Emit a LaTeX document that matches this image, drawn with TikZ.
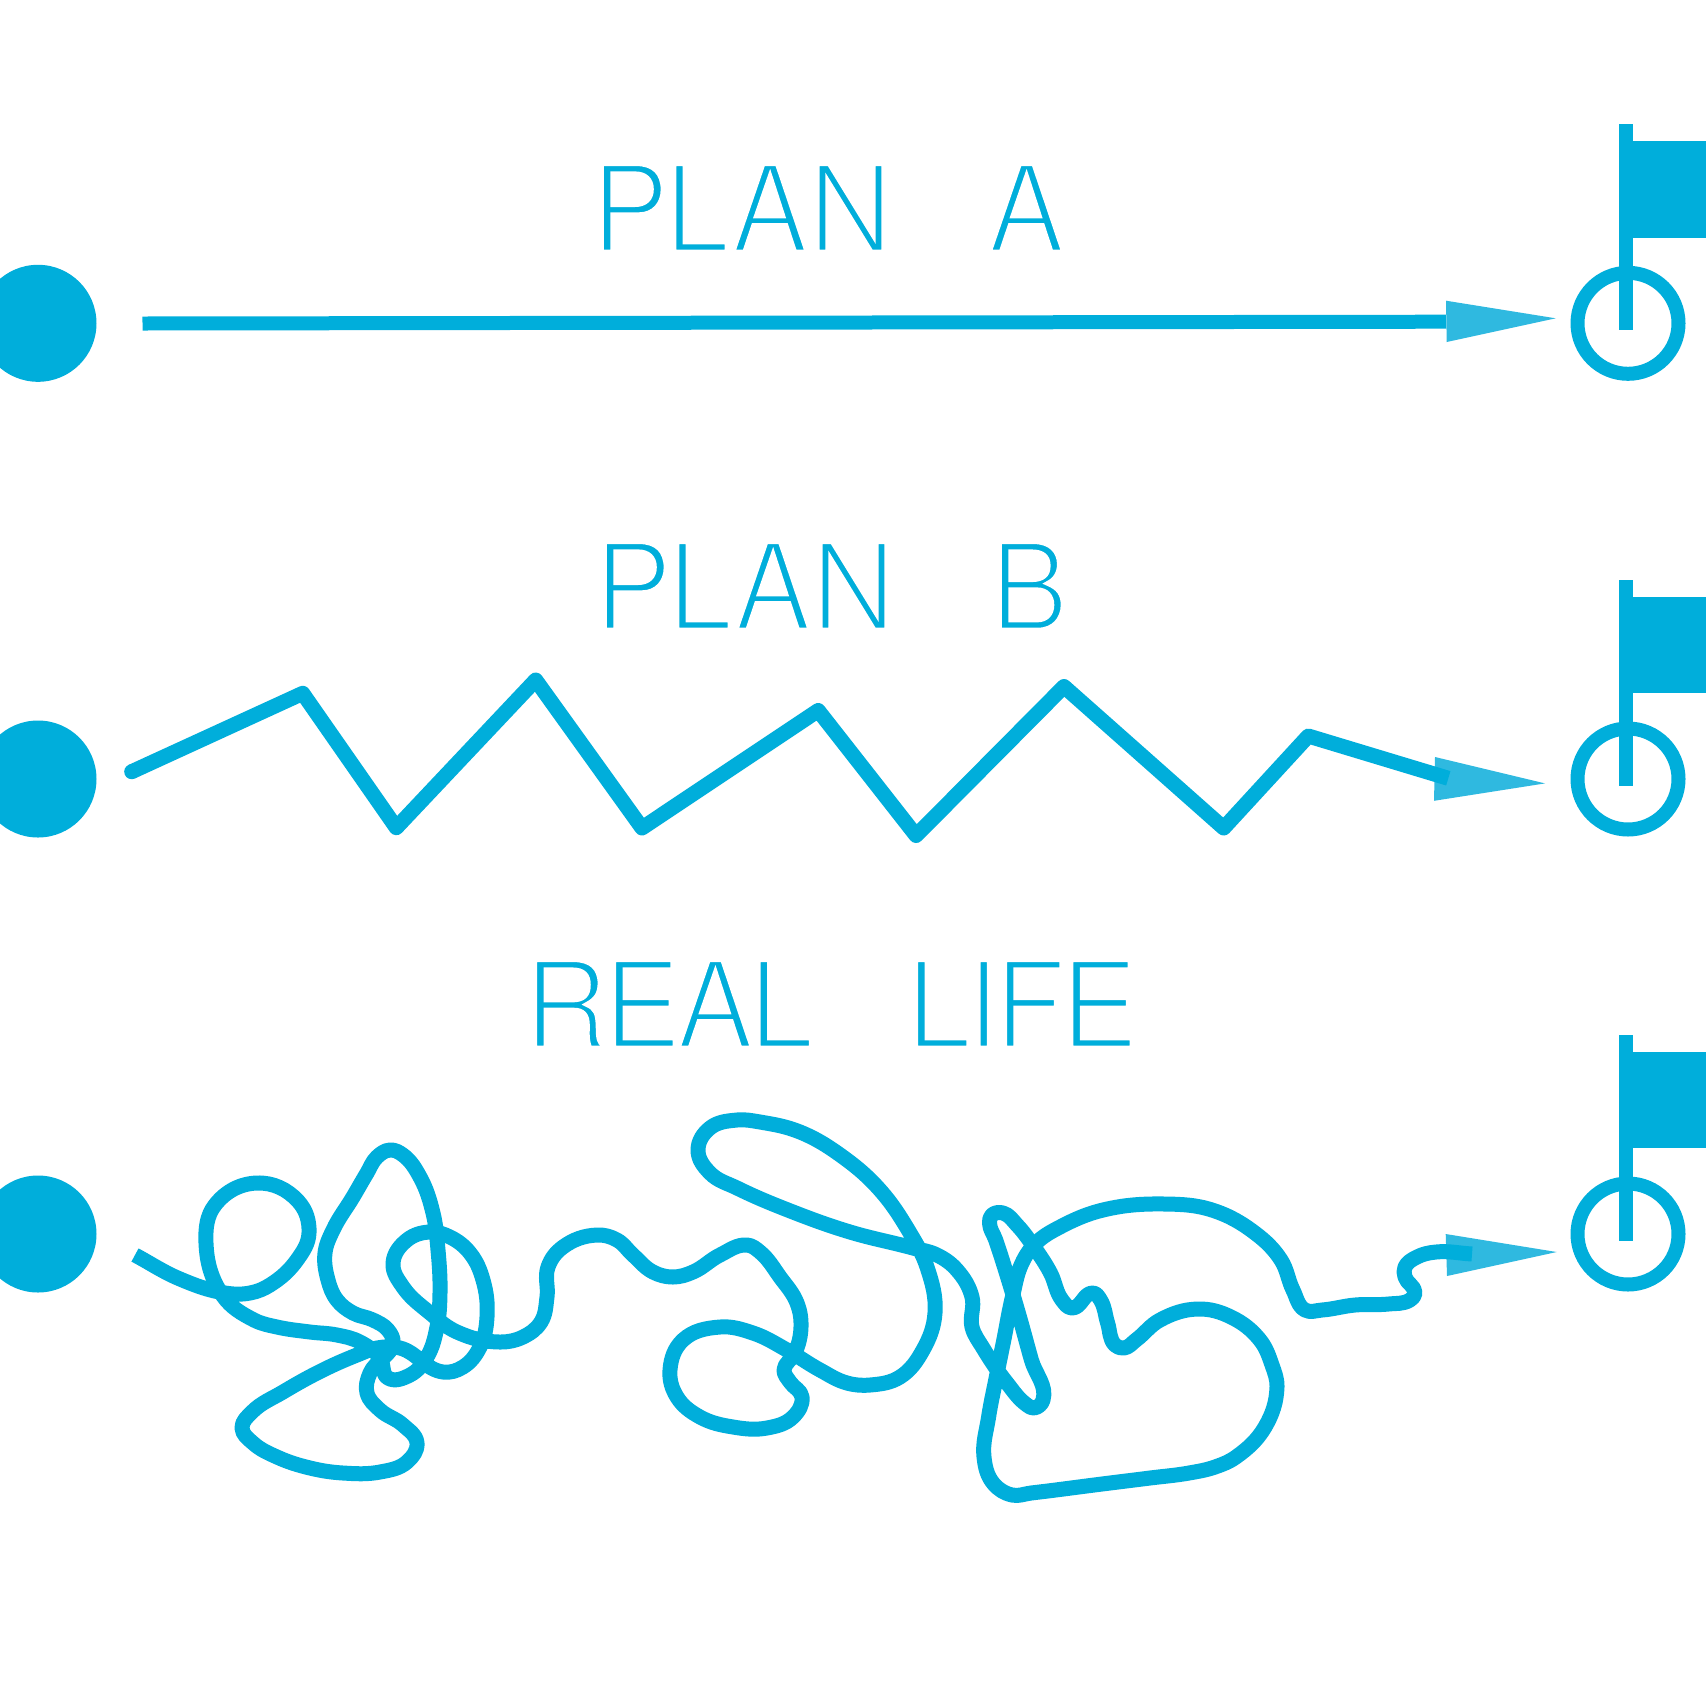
\documentclass[tikz,border=0pt]{standalone}
\usepackage{fontspec}
\setmainfont{TeX Gyre Heros}
\definecolor{planblue}{HTML}{00AEDB}
\definecolor{tipblue}{HTML}{2FB9E0}
% Heavy face pared down to a light weight: each glyph gets a white outline.
\newcommand{\lightface}[1]{\special{pdf:code q 2 Tr 1 1 1 RG 4.6 w}#1\special{pdf:code Q}}
\tikzset{
  route/.style={draw=planblue,line width=14pt,line join=round},
  heavyroute/.style={route,line width=15pt},
  tipshape/.style={fill=tipblue},
  startdot/.style={circle,fill=planblue,inner sep=0pt,minimum size=117pt},
  goalring/.style={circle,draw=planblue,line width=14pt,inner sep=0pt,minimum size=101pt},
  planlabel/.style={text=planblue,anchor=base west,inner sep=0pt,xscale=0.96,transform shape,font=\fontsize{121}{121}\selectfont}
}
% Spline through a list of points: the tangent at each point bisects the angle
% between the chords that meet there; handles scale with the chord length.
\newcount\knotcount
\newcommand{\readknots}[1]{%
  \global\knotcount=0
  \foreach \kx/\ky in {#1}{%
    \global\advance\knotcount by 1
    \expandafter\xdef\csname ptx\the\knotcount\endcsname{\kx}%
    \expandafter\xdef\csname pty\the\knotcount\endcsname{\ky}%
  }%
}
\newcommand{\kval}[2]{\csname #1\number#2\endcsname}
\newcommand{\buildroute}{%
  \pgfmathtruncatemacro\lastknot{\knotcount}%
  \pgfmathtruncatemacro\penknot{\lastknot-1}%
  \foreach \i in {1,...,\lastknot}{%
    \pgfmathtruncatemacro\ia{max(\i-1,1)}\pgfmathtruncatemacro\ib{min(\i+1,\lastknot)}%
    \pgfmathsetmacro\ax{\kval{ptx}{\i}-\kval{ptx}{\ia}}%
    \pgfmathsetmacro\ay{\kval{pty}{\i}-\kval{pty}{\ia}}%
    \pgfmathsetmacro\bx{\kval{ptx}{\ib}-\kval{ptx}{\i}}%
    \pgfmathsetmacro\by{\kval{pty}{\ib}-\kval{pty}{\i}}%
    \pgfmathsetmacro\da{max(veclen(\ax,\ay),0.01)}%
    \pgfmathsetmacro\db{max(veclen(\bx,\by),0.01)}%
    \pgfmathsetmacro\vx{\ax/\da+\bx/\db}%
    \pgfmathsetmacro\vy{\ay/\da+\by/\db}%
    \pgfmathsetmacro\vl{max(veclen(\vx,\vy),0.01)}%
    \pgfmathsetmacro\tx{\vx/\vl}\pgfmathsetmacro\ty{\vy/\vl}%
    \expandafter\xdef\csname tnx\i\endcsname{\tx}%
    \expandafter\xdef\csname tny\i\endcsname{\ty}%
    \expandafter\xdef\csname seg\i\endcsname{\db}%
  }%
  \xdef\routepath{(\kval{ptx}{1},\kval{pty}{1})}%
  \foreach \i in {1,...,\penknot}{%
    \pgfmathtruncatemacro\ib{\i+1}%
    \pgfmathsetmacro\hh{\kval{seg}{\i}*0.36}%
    \pgfmathsetmacro\cax{\kval{ptx}{\i}+\hh*\kval{tnx}{\i}}%
    \pgfmathsetmacro\cay{\kval{pty}{\i}+\hh*\kval{tny}{\i}}%
    \pgfmathsetmacro\cbx{\kval{ptx}{\ib}-\hh*\kval{tnx}{\ib}}%
    \pgfmathsetmacro\cby{\kval{pty}{\ib}-\hh*\kval{tny}{\ib}}%
    \xdef\routepath{\routepath .. controls (\cax,\cay) and (\cbx,\cby) .. (\kval{ptx}{\ib},\kval{pty}{\ib})}%
  }%
}
\begin{document}
\begin{tikzpicture}[x=1pt,y=-1pt]
\useasboundingbox (0,0) rectangle (1706,1706);
\clip (0,0) rectangle (1706,1706);
\fill[white] (0,0) rectangle (1706,1706);

% start dots, goal rings and flags of the three rows
\foreach \n/\y in {a/323.3,b/779,c/1234}{
  \node[startdot] (start\n) at (38,\y) {};
  \node[goalring] (goal\n) at (1628,\y) {};
  \fill[planblue] (1619.3,\y-199) rectangle (1633,\y+6.7);
  \fill[planblue] (1633,\y-182) rectangle (1706,\y-85.6);
}

% headings
\node[planlabel] (labela) at (591,252) {\lightface{P\kern-4ptLAN\hspace{99pt}A}};
\node[planlabel] (labelb) at (594,630) {\lightface{P\kern-4ptLAN\hspace{99pt}B}};
\node[planlabel] (labelc) at (524,1048) {\lightface{\addfontfeature{LetterSpace=-4}REAL\hspace{97pt}LIFE}};

% arrow tips
\fill[tipshape] (1446,300.7) -- (1555.7,318.3) -- (1446.7,342) -- cycle;
\fill[tipshape] (1435,757) -- (1545,783.4) -- (1434,800.8) -- cycle;
\fill[tipshape] (1445.7,1234) -- (1556.7,1252) -- (1447,1276) -- cycle;

% straight route
\coordinate (afrom) at (142.5,323.5);
\coordinate (ato) at (1446,321.7);
\draw[route] (afrom) -- (ato);

% zigzag route, rounded only at its starting end
\coordinate (bfrom) at (131.7,771.7);
\fill[planblue] (bfrom) circle (7.5pt);
\draw[heavyroute]
  (bfrom) -- (302.7,693.3) -- (396.3,827.7) -- (535.7,680) -- (642,828)
  -- (818.2,710.5) -- (916.1,835.5) -- (1064,686.5) -- (1223.7,828) -- (1308.3,736)
  -- (1448.3,778.3);

% tangled route
\readknots{
  135/1255, 180/1279, 225/1293, 250/1293, 270/1285, 297/1260, 309/1233, 298/1201,
  257/1183, 215/1205, 206/1243, 223/1296, 254/1320, 277/1327, 310/1332, 337/1335,
  360/1342, 380/1358, 388/1378, 410/1375, 427/1357, 437/1327, 440/1293, 438/1250,
  433/1213, 420/1177, 403/1155, 390/1150, 377/1157, 367/1173, 353/1197, 333/1230,
  325/1253, 328/1280, 337/1300, 353/1313, 373/1320, 388/1330, 393/1343, 370/1373,
  367/1393, 380/1410, 403/1425, 417/1443, 407/1462, 380/1472, 343/1473, 310/1468,
  277/1457, 253/1443, 242/1428, 252/1412, 283/1392, 323/1370, 357/1355, 377/1348,
  400/1348, 443/1372, 463/1367, 480/1347, 487/1317, 483/1280, 470/1253, 450/1237,
  430/1232, 407/1240, 393/1263, 403/1287, 430/1313, 457/1332, 500/1342, 523/1337,
  541/1322, 547/1297, 548/1267, 563/1247, 597/1235, 617/1240, 633/1255, 653/1272,
  673/1277, 693/1272, 720/1255, 747/1245, 760/1252, 780/1277, 797/1303, 801/1327,
  795/1353, 784/1370, 790/1382, 802/1397, 793/1417, 767/1428, 733/1427, 700/1417,
  677/1397, 670/1370, 683/1340, 720/1327, 753/1333, 787/1350, 820/1370, 847/1383,
  870/1385, 900/1377, 923/1350, 935/1313, 927/1267, 910/1233, 880/1190, 843/1157,
  800/1132, 760/1122, 737/1120, 710/1128, 698/1150, 710/1173, 737/1188, 793/1212,
  850/1232, 913/1248, 937/1255, 957/1270, 972/1297, 972/1327, 983/1348, 1007/1383,
  1027/1405, 1034/1408, 1043/1400, 1031.4/1360, 1019.5/1317, 1007.6/1277, 995.7/1240,
  989.5/1223, 992/1215, 1003/1213, 1017/1225, 1034/1247, 1050.5/1273, 1062/1300,
  1072/1308, 1093/1293, 1100.5/1300, 1107.6/1323, 1115/1345, 1124/1348, 1136/1340,
  1160/1320, 1198/1309, 1231/1317, 1260/1340, 1272/1365, 1277/1387, 1265/1427,
  1236/1457, 1215/1467, 1189/1473, 1150/1478, 1102/1484, 1031/1493, 1012/1495,
  993/1483, 984/1457, 988.6/1417, 995.7/1380, 1003.8/1340, 1012.4/1297, 1022/1263,
  1036/1243, 1060/1227, 1103/1210, 1165/1204, 1212/1210, 1255/1233, 1281/1260,
  1293/1290, 1305/1310, 1322/1310, 1355/1305, 1388.6/1304, 1410/1300, 1415/1293,
  1405/1277, 1405/1267, 1417/1257, 1436/1252, 1472/1254
}
\buildroute
\edef\drawroute{\noexpand\draw[heavyroute] \routepath;}
\drawroute
\end{tikzpicture}
\end{document}
